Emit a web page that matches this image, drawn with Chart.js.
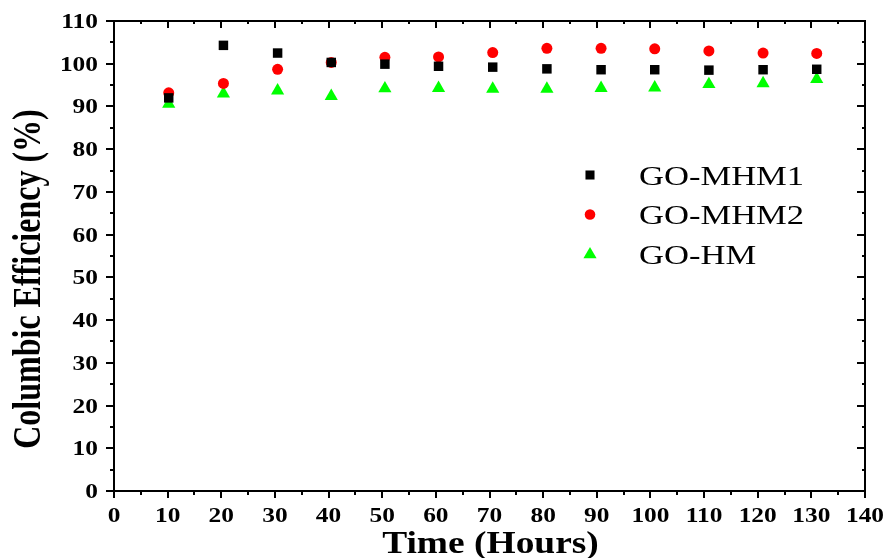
<!DOCTYPE html>
<html>
<head>
<meta charset="utf-8">
<script src="https://cdn.jsdelivr.net/npm/chart.js@4/dist/chart.umd.min.js"></script>
<style>
  html, body { margin: 0; padding: 0; background: #fff; }
  #wrap { width: 887px; height: 558px; }
</style>
</head>
<body>
<div id="wrap"><canvas id="c" width="887" height="558"></canvas></div>
<script>
// Sampling times (hours)
const hours = [10.2, 20.4, 30.5, 40.5, 50.5, 60.5, 70.6, 80.7, 90.8, 100.8, 110.9, 121.0, 131.0];
// Coulombic efficiency (%) for each membrane
const goMhm1 = [92.0, 104.3, 102.5, 100.3, 99.9, 99.4, 99.2, 98.8, 98.6, 98.6, 98.5, 98.6, 98.7];
const goMhm2 = [93.2, 95.4, 98.7, 100.3, 101.5, 101.6, 102.6, 103.6, 103.6, 103.5, 103.0, 102.5, 102.4];
const goHm   = [90.6, 93.0, 93.7, 92.4, 94.2, 94.3, 94.1, 94.1, 94.3, 94.4, 95.2, 95.4, 96.4];
const seriesNames = ['GO-MHM1', 'GO-MHM2', 'GO-HM'];
// Axis ranges and tick steps
const xRange = [0, 140], xStep = 10;
const yRange = [0, 110], yStep = 10;
const xTitle = 'Time (Hours)';
const yTitle = 'Columbic Efficiency (%)';

const SERIF = '"Liberation Serif", "Times New Roman", serif';

function pts(xs, ys) { return xs.map((x, i) => ({ x: x, y: ys[i] })); }

const styles = [
  { color: '#000000', pointStyle: 'rect', radius: 6.7, legendRadius: 6.4 },
  { color: '#ff0000', pointStyle: 'circle', radius: 5.5, legendRadius: 5.3 },
  { color: '#00ff00', pointStyle: 'triangle', radius: 7.6, legendRadius: 7.6 }
];
const seriesData = [goMhm1, goMhm2, goHm];

const datasets = seriesData.map((vals, i) => ({
  label: seriesNames[i],
  data: pts(hours, vals),
  pointStyle: styles[i].pointStyle,
  pointRadius: styles[i].radius,
  pointHoverRadius: styles[i].radius,
  backgroundColor: styles[i].color,
  borderColor: styles[i].color,
  pointBorderWidth: 0,
  showLine: false,
  clip: false
}));

// Horizontally widened text, as in the typeset figure
function wideText(ctx, text, x, y, font, sx, align) {
  ctx.save();
  ctx.translate(x, y);
  ctx.scale(sx, 1);
  ctx.font = font;
  ctx.textAlign = align;
  ctx.textBaseline = 'alphabetic';
  ctx.fillStyle = '#000';
  ctx.fillText(text, 0, 0);
  ctx.restore();
}

const framePlugin = {
  id: 'frame',
  afterDraw(chart) {
    const ctx = chart.ctx;
    const a = chart.chartArea;
    const xs = chart.scales.x, ys = chart.scales.y;
    ctx.save();
    ctx.strokeStyle = '#000';
    ctx.lineWidth = 2;
    ctx.lineCap = 'butt';
    ctx.strokeRect(a.left, a.top, a.right - a.left, a.bottom - a.top);

    ctx.beginPath();
    // x ticks: outward at bottom, inward at top; minor ticks at half steps
    for (let v = xRange[0]; v <= xRange[1] + 1e-9; v += xStep / 2) {
      const px = Math.round(xs.getPixelForValue(v));
      const major = Math.abs(v / xStep - Math.round(v / xStep)) < 1e-6;
      const lb = major ? 7 : 4, lt = major ? 7 : 3;
      ctx.moveTo(px, a.bottom); ctx.lineTo(px, a.bottom + lb);
      ctx.moveTo(px, a.top); ctx.lineTo(px, a.top + lt);
    }
    // y ticks: outward at left, inward at right
    for (let v = yRange[0]; v <= yRange[1] + 1e-9; v += yStep / 2) {
      const py = Math.round(ys.getPixelForValue(v));
      const major = Math.abs(v / yStep - Math.round(v / yStep)) < 1e-6;
      const ll = major ? 8 : 4, lr = major ? 8 : 3;
      ctx.moveTo(a.left, py); ctx.lineTo(a.left - ll, py);
      ctx.moveTo(a.right, py); ctx.lineTo(a.right - lr, py);
    }
    ctx.stroke();
    ctx.restore();

    // tick labels
    const tickFont = 'bold 20px ' + SERIF;
    for (let v = xRange[0]; v <= xRange[1] + 1e-9; v += xStep) {
      wideText(ctx, String(v), xs.getPixelForValue(v), a.bottom + 31, tickFont, 1.27, 'center');
    }
    for (let v = yRange[0]; v <= yRange[1] + 1e-9; v += yStep) {
      wideText(ctx, String(v), a.left - 16, ys.getPixelForValue(v) + 7, tickFont, 1.27, 'right');
    }

    // axis titles
    wideText(ctx, xTitle, (a.left + a.right) / 2 + 1, 553, 'bold 32px ' + SERIF, 1.17, 'center');
    ctx.save();
    ctx.translate(40, 279);
    ctx.rotate(-Math.PI / 2);
    ctx.scale(1, 1.25);
    ctx.font = 'bold 32px ' + SERIF;
    ctx.textAlign = 'center';
    ctx.textBaseline = 'alphabetic';
    ctx.fillStyle = '#000';
    ctx.fillText(yTitle, 0, 0);
    ctx.restore();

    // legend
    const rows = [175, 214.5, 254.5];
    chart.data.datasets.forEach((ds, i) => {
      ctx.save();
      ctx.fillStyle = styles[i].color;
      Chart.helpers.drawPoint(ctx, {
        pointStyle: styles[i].pointStyle,
        radius: styles[i].legendRadius,
        rotation: 0,
        borderWidth: 0
      }, 590, rows[i]);
      ctx.restore();
      wideText(ctx, ds.label, 639, rows[i] + 9.5, '27px ' + SERIF, 1.28, 'left');
    });
  }
};

new Chart(document.getElementById('c'), {
  type: 'scatter',
  data: { datasets: datasets },
  plugins: [framePlugin],
  options: {
    responsive: false,
    animation: false,
    devicePixelRatio: 1,
    layout: { padding: { left: 0, top: 21, right: 22, bottom: 0 } },
    plugins: { legend: { display: false }, tooltip: { enabled: false } },
    scales: {
      x: {
        type: 'linear', min: xRange[0], max: xRange[1],
        ticks: { display: false, stepSize: xStep },
        grid: { display: false }, border: { display: false },
        afterFit(s) { s.height = 67; }
      },
      y: {
        type: 'linear', min: yRange[0], max: yRange[1],
        ticks: { display: false, stepSize: yStep },
        grid: { display: false }, border: { display: false },
        afterFit(s) { s.width = 114; }
      }
    }
  }
});
</script>
</body>
</html>
